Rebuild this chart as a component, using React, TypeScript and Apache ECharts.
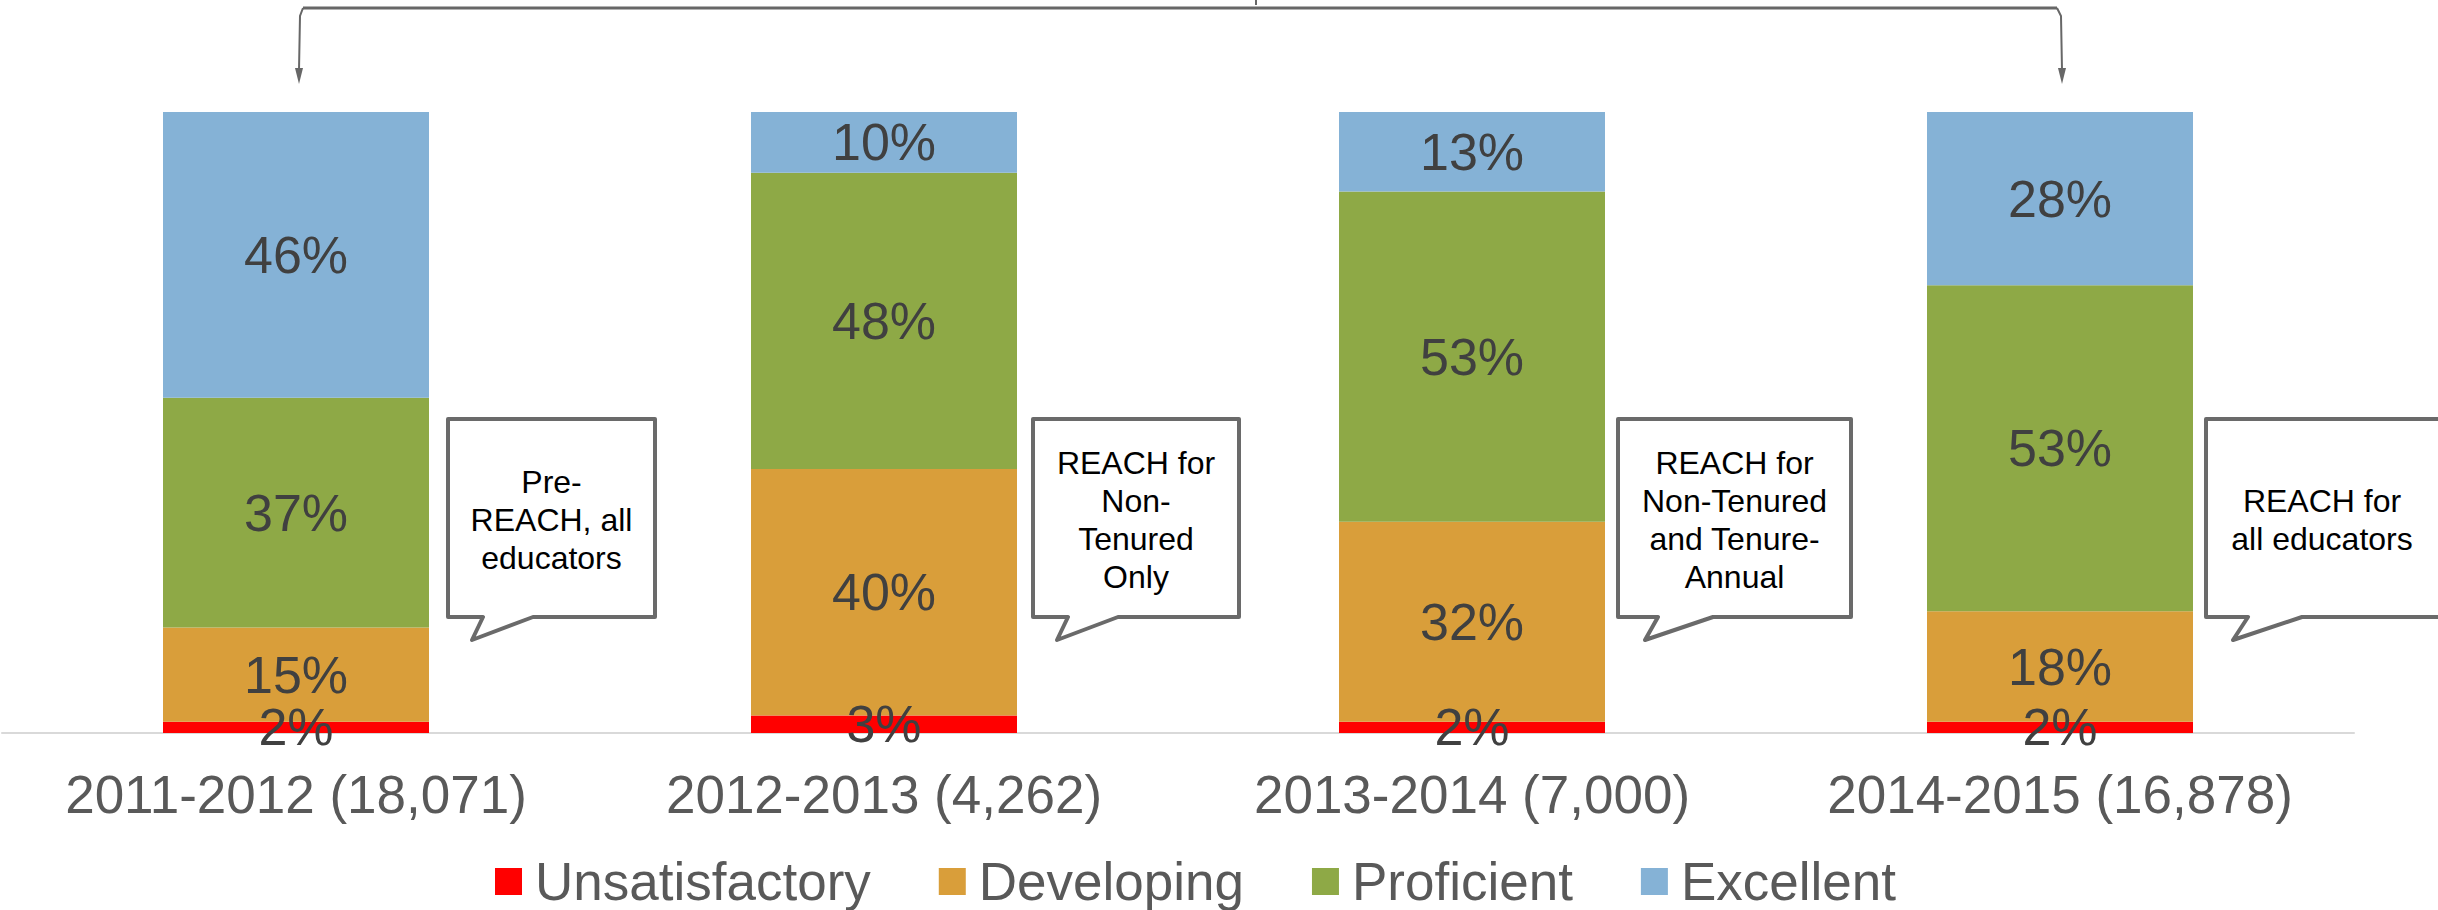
import React, { useEffect, useRef } from "react";
import * as echarts from "echarts";

const categories = [
  "2011-2012 (18,071)",
  "2012-2013 (4,262)",
  "2013-2014 (7,000)",
  "2014-2015 (16,878)",
];
const unsatisfactory = [1.8, 2.8, 1.8, 1.8];
const developing = [15.2, 39.7, 32.2, 17.8];
const proficient = [37.0, 47.7, 53.2, 52.5];
const excellent = [46.0, 9.8, 12.8, 27.9];
const seriesNames = ["Unsatisfactory", "Developing", "Proficient", "Excellent"];
const calloutTexts = [
  "Pre-\nREACH, all\neducators",
  "REACH for\nNon-\nTenured\nOnly",
  "REACH for\nNon-Tenured\nand Tenure-\nAnnual",
  "REACH for\nall educators",
];

const COLORS = ["#FF0000", "#D99E3A", "#8EA946", "#85B2D6"];
const FONT = "'Liberation Sans', Arial, sans-serif";

// callout box layout: [left, right, tailLeft, tipX, tailRight]
const calloutLayout = [
  [448, 655, 483, 472, 533],
  [1033, 1239, 1068, 1057, 1118],
  [1618, 1851, 1658, 1645, 1713],
  [2206, 2446, 2248, 2233, 2302],
];
const BOX_TOP = 419;
const BOX_BOTTOM = 617;
const TIP_Y = 640;

export default function App() {
  const ref = useRef<HTMLDivElement>(null);
  useEffect(() => {
    if (!ref.current) return;
    const chart = echarts.init(ref.current, undefined, { renderer: "svg" });
    const values = [unsatisfactory, developing, proficient, excellent];

    const graphics: any[] = [];
    const stroke = "#676767";
    graphics.push({
      type: "line",
      shape: { x1: 303, y1: 8, x2: 2057, y2: 8 },
      style: { stroke, lineWidth: 3 },
    });
    graphics.push({
      type: "polyline",
      shape: { points: [[303, 8], [300, 16], [299, 70]] },
      style: { stroke, lineWidth: 2, fill: null },
    });
    graphics.push({
      type: "polyline",
      shape: { points: [[2057, 8], [2061, 16], [2062, 70]] },
      style: { stroke, lineWidth: 2, fill: null },
    });
    graphics.push({
      type: "polygon",
      shape: { points: [[295, 68], [303, 68], [299, 84]] },
      style: { fill: stroke },
    });
    graphics.push({
      type: "polygon",
      shape: { points: [[2058, 68], [2066, 68], [2062, 84]] },
      style: { fill: stroke },
    });
    graphics.push({
      type: "line",
      shape: { x1: 1256, y1: 0, x2: 1256, y2: 5 },
      style: { stroke, lineWidth: 2 },
    });

    calloutLayout.forEach((c, i) => {
      const [l, r, tl, tx, tr] = c;
      graphics.push({
        type: "polygon",
        shape: {
          points: [
            [l, BOX_TOP],
            [r, BOX_TOP],
            [r, BOX_BOTTOM],
            [tr, BOX_BOTTOM],
            [tx, TIP_Y],
            [tl, BOX_BOTTOM],
            [l, BOX_BOTTOM],
          ],
        },
        style: { fill: "#ffffff", stroke: "#6a6a6a", lineWidth: 4, lineJoin: "round" },
      });
      const cx = i === 3 ? 2322 : (l + r) / 2;
      graphics.push({
        type: "text",
        x: cx,
        y: (BOX_TOP + BOX_BOTTOM) / 2 + 2,
        style: {
          text: calloutTexts[i],
          fill: "#000000",
          fontSize: 32,
          fontFamily: FONT,
          lineHeight: 38,
          align: "center",
          verticalAlign: "middle",
        },
      });
    });

    chart.setOption({
      animation: false,
      backgroundColor: "#ffffff",
      grid: { left: 2, right: 84, top: 112, bottom: 177, containLabel: false },
      legend: {
        data: seriesNames,
        left: 490,
        top: 850,
        itemWidth: 27,
        itemHeight: 27,
        itemGap: 68,
        icon: "rect",
        textStyle: {
          fontSize: 53,
          color: "#595959",
          fontFamily: FONT,
          padding: [0, 0, 0, 8],
        },
      },
      xAxis: {
        type: "category",
        data: categories,
        axisTick: { show: false },
        axisLine: { lineStyle: { color: "#d9d9d9", width: 2 } },
        axisLabel: {
          fontSize: 53,
          color: "#595959",
          fontFamily: FONT,
          margin: 35,
          interval: 0,
        },
      },
      yAxis: {
        type: "value",
        min: 0,
        max: 100,
        show: false,
        splitLine: { show: false },
      },
      series: seriesNames.map((name, i) => ({
        name,
        type: "bar",
        stack: "total",
        barWidth: 266,
        data: values[i],
        itemStyle: { color: COLORS[i] },
        label: {
          show: true,
          position: "inside",
          fontSize: 52,
          color: "#404040",
          fontFamily: FONT,
          formatter: (p: any) => Math.round(p.value) + "%",
        },
      })),
      graphic: graphics,
    });
    return () => chart.dispose();
  }, []);
  return (
    <div
      ref={ref}
      style={{ position: "fixed", left: 0, top: 0, width: 2438, height: 910 }}
    />
  );
}
